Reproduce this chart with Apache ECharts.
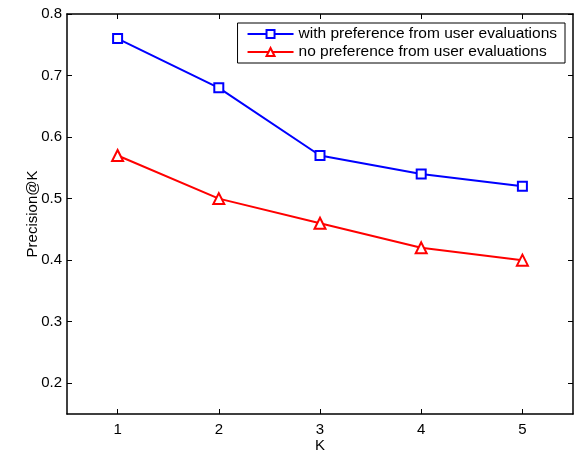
<!DOCTYPE html>
<html lang="en">
  <head>
    <meta charset="UTF-8" />
    <title>Precision@K</title>
    <script src="https://cdn.jsdelivr.net/npm/echarts@6/dist/echarts.min.js"></script>
    <style>
      html, body { margin: 0; padding: 0; background: #fff; }
      #chart { width: 574px; height: 452px; }
    </style>
  </head>
  <body>
    <div id="chart"></div>
    <script>
      // data
      var kValues = ["1", "2", "3", "4", "5"];
      var withPref = [0.76, 0.68, 0.57, 0.54, 0.52];
      var noPref = [0.57, 0.5, 0.46, 0.42, 0.4];
      var yTicks = [0.2, 0.3, 0.4, 0.5, 0.6, 0.7, 0.8];

      var font = "Liberation Sans, Arial, sans-serif";
      var chart = echarts.init(document.getElementById("chart"));

      var frame = { show: true, lineStyle: { color: "#000", width: 1.5 } };
      var tick = { show: true, inside: true, length: 5, lineStyle: { color: "#000" } };

      var option = {
        backgroundColor: "#fff",
        animation: false,
        grid: { left: 67, right: 1, top: 14, bottom: 38, containLabel: false, outerBoundsMode: "none" },
        legend: {
          right: 9,
          top: 23,
          orient: "vertical",
          backgroundColor: "#fff",
          borderColor: "#000",
          borderWidth: 1,
          padding: [3, 8, 3, 9],
          itemGap: 2,
          itemWidth: 46,
          itemHeight: 10,
          textStyle: { fontFamily: font, fontSize: 15.5, color: "#000" },
          data: ["with preference from user evaluations", "no preference from user evaluations"],
        },
        xAxis: [
          {
            type: "category",
            data: kValues,
            name: "K",
            nameLocation: "middle",
            nameGap: 24,
            nameMoveOverlap: false,
            nameTextStyle: { fontFamily: font, fontSize: 15, color: "#000" },
            axisLine: frame,
            axisTick: Object.assign({ alignWithLabel: true }, tick),
            axisLabel: { fontFamily: font, fontSize: 15, color: "#000", margin: 8 },
            splitLine: { show: false },
          },
          {
            type: "category",
            data: kValues,
            position: "top",
            axisLine: frame,
            axisTick: Object.assign({ alignWithLabel: true }, tick),
            axisLabel: { show: false },
          },
        ],
        yAxis: [
          {
            type: "value",
            min: 0.15,
            max: 0.8,
            name: "Precision@K",
            nameLocation: "middle",
            nameGap: 27,
            nameMoveOverlap: false,
            nameTextStyle: { fontFamily: font, fontSize: 15, color: "#000" },
            axisLine: frame,
            axisTick: Object.assign({ customValues: yTicks }, tick),
            axisLabel: {
              customValues: yTicks,
              fontFamily: font,
              fontSize: 15,
              color: "#000",
              margin: 5,
              formatter: function (v) { return v.toFixed(1); },
            },
            splitLine: { show: false },
          },
          {
            type: "value",
            min: 0.15,
            max: 0.8,
            position: "right",
            axisLine: frame,
            axisTick: Object.assign({ customValues: yTicks }, tick),
            axisLabel: { show: false },
            splitLine: { show: false },
          },
        ],
        series: [
          {
            name: "with preference from user evaluations",
            type: "line",
            data: withPref,
            symbol: "emptyRect",
            symbolSize: 9,
            color: "#0000ff",
            lineStyle: { width: 2 },
            itemStyle: { borderWidth: 2 },
          },
          {
            name: "no preference from user evaluations",
            type: "line",
            data: noPref,
            symbol: "emptyTriangle",
            symbolSize: 11,
            color: "#ff0000",
            lineStyle: { width: 2 },
            itemStyle: { borderWidth: 2 },
          },
        ],
      };
      chart.setOption(option);
    </script>
  </body>
</html>
